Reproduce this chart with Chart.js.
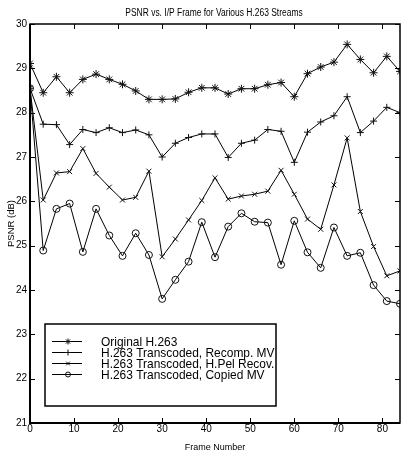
<!DOCTYPE html>
<html>
<head>
<meta charset="utf-8">
<script src="https://cdn.jsdelivr.net/npm/chart.js@4/dist/chart.umd.min.js"></script>
<style>
  html, body { margin: 0; padding: 0; background: #fff; overflow: hidden; }
  canvas { display: block; }
</style>
</head>
<body>
<canvas id="chart" width="405" height="454"></canvas>
<script>
// frame index of every plotted I/P frame
const frames = [0, 3, 6, 9, 12, 15, 18, 21, 24, 27, 30, 33, 36, 39, 42, 45, 48, 51, 54, 57, 60, 63, 66, 69, 72, 75, 78, 81, 84];

const original = [29.11, 28.45, 28.81, 28.45, 28.75, 28.87, 28.75, 28.64, 28.49, 28.30, 28.30, 28.31, 28.46, 28.56, 28.56,
  28.42, 28.54, 28.54, 28.63, 28.68, 28.36, 28.88, 29.03, 29.14, 29.54, 29.20, 28.90, 29.27, 28.93];
const recompMV = [28.55, 27.74, 27.73, 27.28, 27.62, 27.55, 27.66, 27.55, 27.61, 27.50, 27.00, 27.31, 27.44, 27.52, 27.52,
  26.99, 27.31, 27.38, 27.62, 27.58, 26.88, 27.56, 27.79, 27.93, 28.36, 27.55, 27.81, 28.12, 28.00];
const hpelRecov = [28.55, 26.03, 26.64, 26.67, 27.19, 26.63, 26.32, 26.03, 26.09, 26.68, 24.75, 25.15, 25.58, 26.02, 26.53,
  26.05, 26.12, 26.16, 26.23, 26.70, 26.16, 25.60, 25.37, 26.37, 27.43, 25.77, 24.98, 24.32, 24.43];
const copiedMV = [28.55, 24.89, 25.83, 25.95, 24.86, 25.83, 25.23, 24.77, 25.28, 24.79, 23.80, 24.23, 24.64, 25.53, 24.74,
  25.43, 25.73, 25.54, 25.52, 24.57, 25.56, 24.85, 24.50, 25.41, 24.77, 24.84, 24.11, 23.75, 23.69];

const seriesNames = ['Original H.263', 'H.263 Transcoded, Recomp. MV', 'H.263 Transcoded, H.Pel Recov.', 'H.263 Transcoded, Copied MV'];
const chartTitle = 'PSNR vs. I/P Frame for Various H.263 Streams';

const FONT = "'Liberation Sans', Arial, sans-serif";

const pts = vals => vals.map((v, i) => ({x: frames[i], y: v}));

const series = (label, data, pointStyle, pointRadius, legendRadius) => ({
  label,
  data: pts(data),
  borderColor: '#000',
  borderWidth: 1,
  pointStyle,
  pointRadius,
  legendRadius,
  pointBorderColor: '#111',
  pointBackgroundColor: pointStyle === 'circle' ? 'rgba(0,0,0,0)' : '#555',
  pointBorderWidth: 1,
  tension: 0,
});

// narrow (Helvetica Narrow look) text: squeeze horizontally
function narrowText(ctx, text, x, y, squeeze) {
  ctx.save();
  ctx.translate(x, y);
  ctx.scale(squeeze, 1);
  ctx.fillText(text, 0, 0);
  ctx.restore();
}

// inward MATLAB-style ticks, box, title and legend inside the axes
const frame = {
  id: 'frame',
  afterDatasetsDraw(chart) {
    const {ctx, chartArea: a, scales: {x, y}} = chart;
    ctx.save();
    ctx.strokeStyle = '#000';
    ctx.lineWidth = 1;
    ctx.beginPath();
    x.ticks.forEach(t => {
      const px = Math.round(x.getPixelForValue(t.value)) + 0.5;
      ctx.moveTo(px, a.bottom); ctx.lineTo(px, a.bottom - 5);
      ctx.moveTo(px, a.top); ctx.lineTo(px, a.top + 5);
    });
    y.ticks.forEach(t => {
      const py = Math.round(y.getPixelForValue(t.value)) + 0.5;
      ctx.moveTo(a.left, py); ctx.lineTo(a.left + 5, py);
      ctx.moveTo(a.right, py); ctx.lineTo(a.right - 5, py);
    });
    ctx.stroke();
    ctx.lineWidth = 1.5;
    ctx.strokeRect(a.left, a.top, a.width, a.height);
    ctx.lineWidth = 2;
    ctx.beginPath();
    ctx.moveTo(a.left, a.top); ctx.lineTo(a.left, a.bottom); ctx.lineTo(a.right, a.bottom);
    ctx.stroke();

    // title
    ctx.fillStyle = '#000';
    ctx.font = '10px ' + FONT;
    ctx.textAlign = 'center';
    ctx.textBaseline = 'middle';
    narrowText(ctx, chartTitle, (a.left + a.right) / 2 - 1, 13, 0.845);

    // legend box
    const bx = a.left + 15, by = a.top + 300, bw = 231, bh = 82;
    ctx.fillStyle = '#fff';
    ctx.fillRect(bx, by, bw, bh);
    ctx.lineWidth = 1.5;
    ctx.strokeRect(bx, by, bw, bh);
    ctx.font = '13.5px ' + FONT;
    ctx.textAlign = 'left';
    chart.data.datasets.forEach((ds, i) => {
      const ry = by + 17.5 + i * 11;
      ctx.strokeStyle = '#000';
      ctx.lineWidth = 1;
      ctx.beginPath();
      ctx.moveTo(bx + 7, ry); ctx.lineTo(bx + 37, ry);
      ctx.stroke();
      ctx.strokeStyle = ds.pointBorderColor;
      ctx.fillStyle = ds.pointBackgroundColor;
      Chart.helpers.drawPoint(ctx, {pointStyle: ds.pointStyle, radius: ds.legendRadius, rotation: 0, borderWidth: 1}, bx + 23, ry);
      ctx.fillStyle = '#000';
      narrowText(ctx, ds.label, bx + 56, ry + 0.5, 0.885);
    });
    ctx.restore();
  }
};

new Chart(document.getElementById('chart'), {
  type: 'line',
  data: {
    datasets: [
      series(seriesNames[0], original, 'star', 4, 3),
      series(seriesNames[1], recompMV, 'cross', 3.5, 3),
      series(seriesNames[2], hpelRecov, 'crossRot', 3.5, 2.5),
      series(seriesNames[3], copiedMV, 'circle', 3.5, 2.5),
    ]
  },
  options: {
    responsive: false,
    animation: false,
    layout: {padding: {top: 24, left: 0, right: 0, bottom: 0}},
    plugins: {
      legend: {display: false},
      title: {display: false},
      tooltip: {enabled: false},
    },
    scales: {
      x: {
        type: 'linear',
        min: 0,
        max: 84,
        afterFit: s => { s.height = 31; },
        grid: {display: false, drawTicks: false},
        border: {display: false},
        ticks: {stepSize: 10, includeBounds: false, padding: 0, color: '#000', font: {family: FONT, size: 10}, maxRotation: 0},
        title: {display: true, text: 'Frame Number', color: '#000', font: {family: FONT, size: 9}, padding: {top: 0, bottom: 1}},
      },
      y: {
        min: 21,
        max: 30,
        afterFit: s => { s.width = 30; },
        grid: {display: false, drawTicks: false},
        border: {display: false},
        ticks: {stepSize: 1, padding: 3, color: '#000', font: {family: FONT, size: 10}},
        title: {display: true, text: 'PSNR (dB)', color: '#000', font: {family: FONT, size: 9.5}, padding: {top: 6, bottom: 0}},
      }
    }
  },
  plugins: [frame]
});
</script>
</body>
</html>
